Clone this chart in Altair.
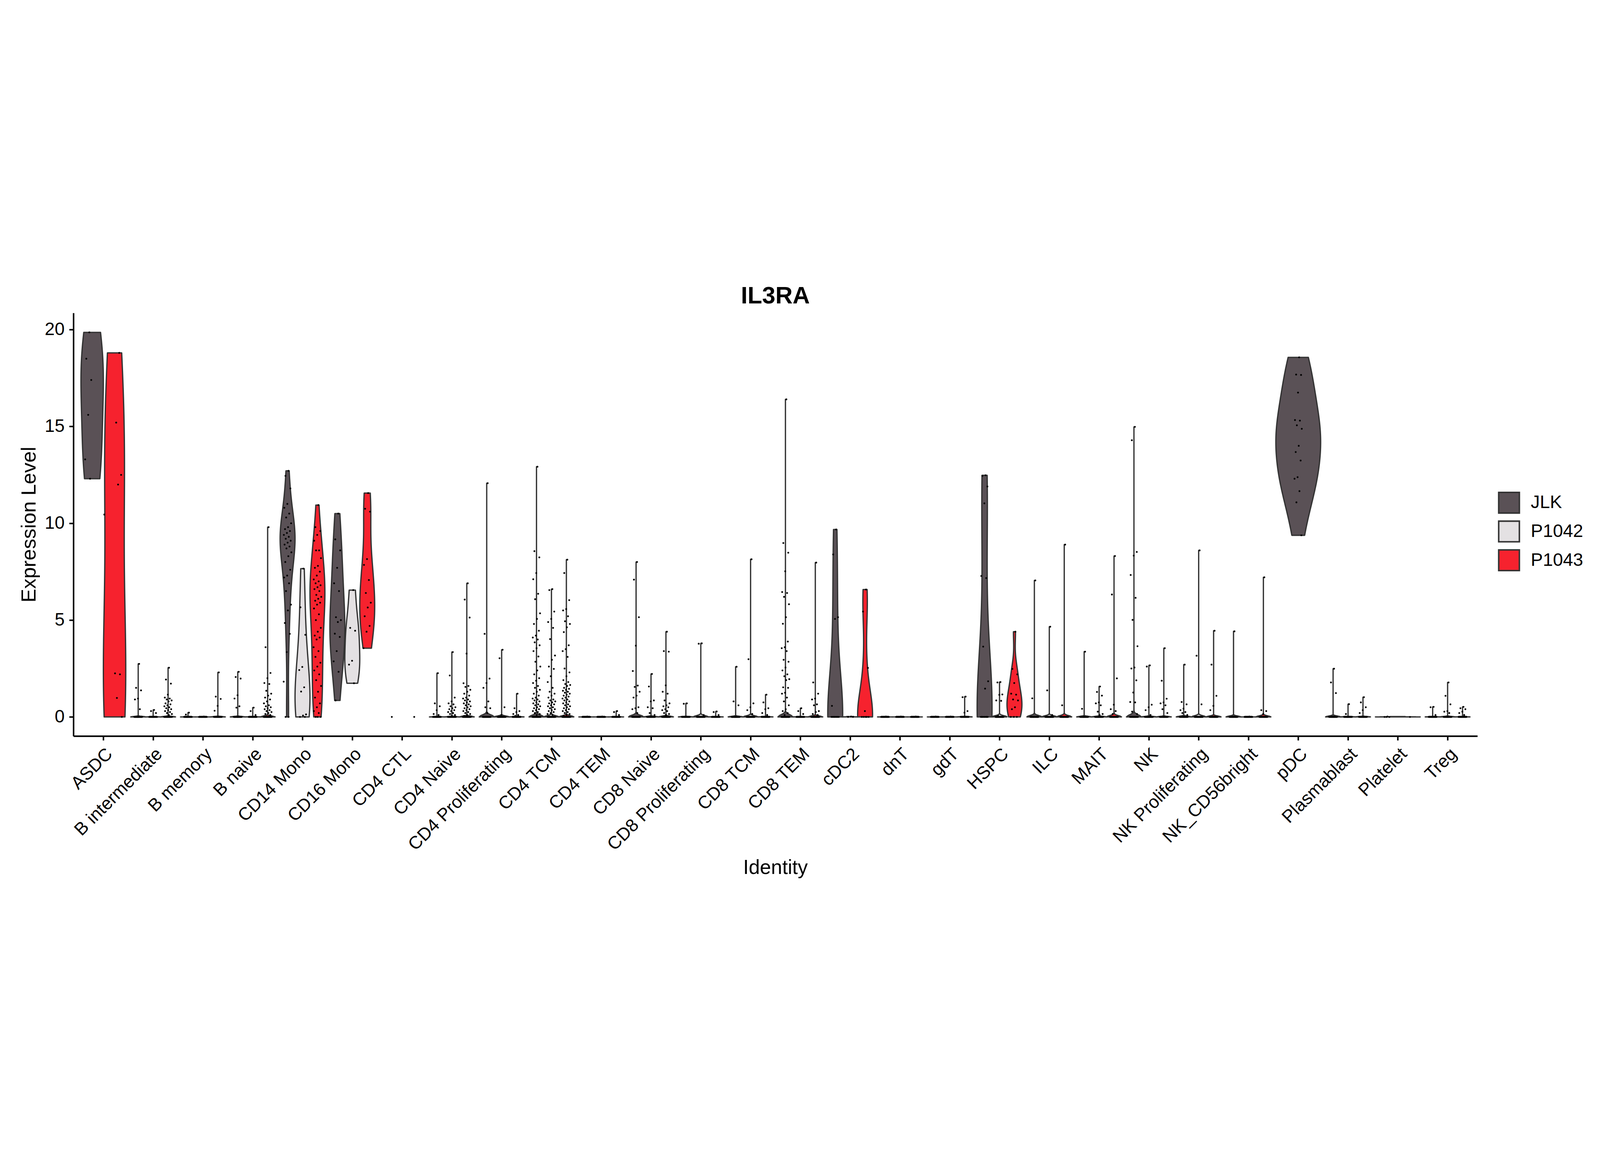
import json

import altair as alt
import pandas as pd

alt.data_transformers.disable_max_rows()

TITLE = "IL3RA"
CATEGORIES = ["ASDC", "B intermediate", "B memory", "B naive", "CD14 Mono", "CD16 Mono",
              "CD4 CTL", "CD4 Naive", "CD4 Proliferating", "CD4 TCM", "CD4 TEM", "CD8 Naive",
              "CD8 Proliferating", "CD8 TCM", "CD8 TEM", "cDC2", "dnT", "gdT", "HSPC", "ILC",
              "MAIT", "NK", "NK Proliferating", "NK_CD56bright", "pDC", "Plasmablast",
              "Platelet", "Treg"]
SAMPLES = ["JLK", "P1042", "P1043"]
COLOURS = ["#5A5156", "#E4E1E3", "#F6222E"]
Y_TICKS = [0, 5, 10, 15, 20]

# non-zero expression values (0.02 = a group that sits flat on 0)
JLK_VALUES = {
    "ASDC": [19.86, 18.5, 17.4, 15.6, 13.3, 12.3],
    "B intermediate": [2.74, 1.5, 1.37, 0.95, 0.9, 0.4],
    "B memory": [0.22, 0.12],
    "B naive": [2.33, 2.06, 1.98, 1.12, 0.95, 0.55, 0.48],
    "CD14 Mono": [12.71, 12.45, 11.8, 11.0, 10.8, 10.5, 10.3, 10.0, 9.8, 9.7, 9.6, 9.5, 9.4,
                  9.3, 9.2, 9.1, 9.0, 8.9, 8.8, 8.7, 8.5, 8.3, 8.0, 7.6, 7.3, 7.2, 6.9, 6.5,
                  5.8, 5.5, 4.85, 4.29, 3.35, 1.82],
    "CD16 Mono": [10.5, 9.17, 8.6, 7.7, 6.9, 6.5, 5.15, 5.0, 4.9, 4.3, 4.13, 3.4, 2.87, 2.33, 0.85],
    "CD4 Naive": [2.26, 0.7, 0.55, 0.35, 0.15, 0.1],
    "CD4 Proliferating": [12.07, 4.29, 1.98, 1.75, 1.5, 0.8, 0.5, 0.45, 0.2],
    "CD4 TCM": [12.92, 8.56, 8.24, 7.43, 7.11, 6.36, 6.08, 5.35, 5.06, 4.8, 4.45, 4.2, 4.1, 4.0,
                3.85, 3.7, 3.55, 3.4, 3.12, 2.85, 2.6, 2.4, 2.2, 2.0, 1.87, 1.75, 1.6, 1.5, 1.4,
                1.3, 1.2, 1.1, 1.0, 0.95, 0.9, 0.85, 0.8, 0.75, 0.7, 0.65, 0.6, 0.55, 0.5, 0.45,
                0.4, 0.35, 0.3, 0.25, 0.2, 0.15, 0.1],
    "CD4 TEM": [0.02],
    "CD8 Naive": [8.0, 7.09, 5.15, 3.68, 2.37, 1.62, 1.55, 1.3, 1.1, 1.0, 0.5, 0.45, 0.4, 0.2],
    "CD8 Proliferating": [0.7, 0.68],
    "CD8 TCM": [2.59, 0.8, 0.6],
    "CD8 TEM": [16.4, 8.98, 8.48, 7.52, 6.45, 6.4, 6.2, 5.82, 5.15, 4.81, 3.89, 3.6, 3.55, 3.4,
                2.95, 2.85, 2.55, 2.4, 2.2, 2.1, 1.95, 1.9, 1.53, 1.5, 1.25, 1.2, 1.0, 0.8, 0.6,
                0.4, 0.3, 0.2, 0.1],
    "cDC2": [9.68, 8.39, 5.15, 5.06, 0.57],
    "dnT": [0.02],
    "gdT": [0.02],
    "HSPC": [12.48, 12.45, 11.9, 11.03, 7.28, 7.17, 3.63, 1.84, 1.46],
    "ILC": [7.05, 0.96],
    "MAIT": [3.37, 0.42],
    "NK": [14.98, 14.29, 8.52, 8.33, 7.33, 6.15, 5.01, 3.65, 2.55, 2.5, 1.89, 1.26, 0.77, 0.75,
           0.27, 0.15],
    "NK Proliferating": [2.7, 0.77, 0.65, 0.43, 0.35, 0.25, 0.2, 0.1],
    "NK_CD56bright": [4.42],
    "pDC": [18.57, 17.68, 17.66, 16.75, 15.33, 15.3, 15.06, 14.88, 14.0, 13.68, 13.24, 12.38,
            12.3, 11.66, 11.08, 9.38],
    "Plasmablast": [2.49, 1.78, 1.23],
    "Platelet": [0.02],
    "Treg": [0.52, 0.5, 0.1],
}
P1042_VALUES = {
    "ASDC": [10.45],
    "B intermediate": [0.36, 0.3, 0.2],
    "B memory": [0.02],
    "B naive": [0.48, 0.3, 0.1],
    "CD14 Mono": [7.66, 5.66, 4.24, 2.58, 2.42, 1.53, 1.31, 0.13, 0.07],
    "CD16 Mono": [6.55, 4.6, 4.45, 2.9, 2.7, 1.74],
    "CD4 Naive": [3.35, 2.14, 1.0, 0.8, 0.7, 0.65, 0.55, 0.5, 0.45, 0.4, 0.35, 0.3, 0.25, 0.2,
                  0.15, 0.1, 0.05],
    "CD4 Proliferating": [3.47, 3.03, 0.5, 0.1],
    "CD4 TCM": [6.6, 6.55, 5.44, 5.06, 4.9, 4.6, 4.02, 3.17, 2.95, 2.6, 2.48, 2.1, 1.8, 1.5, 1.3,
                1.2, 1.1, 1.0, 0.9, 0.85, 0.8, 0.75, 0.7, 0.65, 0.6, 0.55, 0.5, 0.45, 0.4, 0.35,
                0.3, 0.25, 0.2, 0.15, 0.1],
    "CD4 TEM": [0.02],
    "CD8 Naive": [2.22, 1.57, 0.85, 0.8, 0.5, 0.45, 0.2, 0.1],
    "CD8 Proliferating": [3.8, 3.78, 0.1],
    "CD8 TCM": [8.14, 2.98, 0.7, 0.5, 0.35, 0.15],
    "CD8 TEM": [0.45, 0.3, 0.15],
    "cDC2": [0.02],
    "dnT": [0.02],
    "gdT": [0.02],
    "HSPC": [1.8, 1.78, 1.16, 1.14, 0.85, 0.83, 0.05],
    "ILC": [4.66, 1.37, 0.1],
    "MAIT": [1.57, 1.29, 1.1, 0.75, 0.7, 0.6, 0.27, 0.15, 0.1],
    "NK": [2.66, 2.6, 0.63, 0.5, 0.35, 0.1],
    "NK Proliferating": [8.6, 3.16, 0.65],
    "NK_CD56bright": [0.02],
    "Plasmablast": [0.66, 0.15],
    "Treg": [1.78, 1.09, 0.65, 0.3, 0.27, 0.2],
}
P1043_VALUES = {
    "ASDC": [18.8, 15.2, 12.5, 12.0, 2.25, 2.2, 0.98],
    "B intermediate": [2.54, 1.93, 1.72, 1.15, 1.0, 0.95, 0.9, 0.85, 0.8, 0.7, 0.65, 0.6, 0.55,
                       0.5, 0.45, 0.4, 0.35, 0.3, 0.25, 0.2, 0.15, 0.1],
    "B memory": [2.3, 1.05, 0.93, 0.57, 0.32],
    "B naive": [9.8, 3.6, 2.27, 2.0, 1.75, 1.7, 1.35, 1.2, 1.1, 1.0, 0.9, 0.8, 0.7, 0.6, 0.55,
                0.5, 0.45, 0.4, 0.35, 0.3, 0.25, 0.2, 0.15, 0.1],
    "CD14 Mono": [10.94, 9.8, 9.6, 9.4, 9.1, 8.6, 8.6, 8.2, 7.8, 7.7, 7.5, 7.3, 7.1, 7.0, 6.9,
                  6.8, 6.7, 6.6, 6.5, 6.3, 6.2, 6.1, 6.0, 5.9, 5.8, 5.6, 5.3, 5.0, 4.6, 4.4, 4.2,
                  4.1, 4.0, 3.6, 3.4, 3.1, 2.8, 2.6, 2.4, 2.2, 1.9, 1.6, 1.3, 1.0, 0.7, 0.5, 0.3,
                  0.2],
    "CD16 Mono": [11.56, 10.75, 10.6, 8.15, 7.85, 7.07, 6.4, 5.9, 5.65, 5.2, 4.7, 4.4, 3.55],
    "CD4 Naive": [6.9, 6.06, 5.13, 3.27, 1.74, 1.6, 1.55, 1.4, 1.3, 1.2, 1.1, 1.0, 0.95, 0.9,
                  0.85, 0.8, 0.75, 0.7, 0.65, 0.6, 0.55, 0.5, 0.45, 0.4, 0.35, 0.3, 0.25, 0.2,
                  0.15, 0.1, 0.05],
    "CD4 Proliferating": [1.2, 0.45, 0.3, 0.25, 0.15, 0.1, 0.05],
    "CD4 TCM": [8.12, 7.43, 6.03, 5.57, 5.5, 5.2, 4.94, 4.8, 4.63, 4.38, 3.7, 3.5, 3.4, 3.1, 2.5,
                2.3, 2.1, 1.9, 1.8, 1.7, 1.65, 1.6, 1.5, 1.45, 1.4, 1.35, 1.3, 1.25, 1.2, 1.15,
                1.1, 1.05, 1.0, 0.95, 0.9, 0.85, 0.8, 0.75, 0.7, 0.65, 0.6, 0.55, 0.5, 0.45, 0.4,
                0.35, 0.3, 0.25, 0.2, 0.15, 0.1, 0.05],
    "CD4 TEM": [0.3, 0.25, 0.1],
    "CD8 Naive": [4.4, 3.4, 3.37, 1.63, 1.3, 1.2, 0.85, 0.7, 0.6, 0.55, 0.5, 0.4, 0.35, 0.3, 0.2,
                  0.15, 0.1],
    "CD8 Proliferating": [0.28, 0.25, 0.1],
    "CD8 TCM": [1.15, 0.75, 0.45, 0.4, 0.2, 0.1],
    "CD8 TEM": [7.97, 1.78, 1.2, 0.95, 0.9, 0.65, 0.6, 0.3, 0.25, 0.15, 0.1],
    "cDC2": [6.58, 5.44, 2.53, 0.3],
    "dnT": [0.02],
    "gdT": [1.05, 1.02, 0.3, 0.22],
    "HSPC": [4.4, 2.48, 2.2, 1.75, 1.2, 1.15, 0.9, 0.85, 0.5, 0.4],
    "ILC": [8.9, 0.6],
    "MAIT": [8.31, 6.32, 1.99, 0.63, 0.4, 0.3, 0.15],
    "NK": [3.55, 1.87, 0.94, 0.75, 0.7, 0.6, 0.4, 0.2],
    "NK Proliferating": [4.45, 2.7, 1.09, 0.57, 0.35],
    "NK_CD56bright": [7.21, 0.35, 0.3, 0.15],
    "Plasmablast": [1.02, 0.75, 0.5, 0.35, 0.2],
    "Treg": [0.52, 0.45, 0.4, 0.27, 0.2, 0.1],
}

# estimated number of cells sitting at exactly 0
JLK_ZEROS = {"B intermediate": 1500, "B memory": 1500, "B naive": 2000, "CD14 Mono": 2,
             "CD4 CTL": 1, "CD4 Naive": 3000, "CD4 Proliferating": 1200, "CD4 TCM": 4000,
             "CD4 TEM": 1000, "CD8 Naive": 1500, "CD8 Proliferating": 400, "CD8 TCM": 800,
             "CD8 TEM": 3000, "cDC2": 8, "dnT": 400, "gdT": 600, "HSPC": 10, "ILC": 800,
             "MAIT": 1000, "NK": 3000, "NK Proliferating": 600, "NK_CD56bright": 800,
             "Plasmablast": 500, "Platelet": 3, "Treg": 800}
P1042_ZEROS = {"B intermediate": 800, "B memory": 800, "B naive": 800, "CD14 Mono": 2,
               "CD4 Naive": 3000, "CD4 Proliferating": 800, "CD4 TCM": 3000, "CD4 TEM": 600,
               "CD8 Naive": 1000, "CD8 Proliferating": 600, "CD8 TCM": 1500, "CD8 TEM": 600,
               "cDC2": 2, "dnT": 300, "gdT": 400, "HSPC": 300, "ILC": 600, "MAIT": 800,
               "NK": 1500, "NK Proliferating": 1500, "NK_CD56bright": 400, "Plasmablast": 300,
               "Treg": 800}
P1043_ZEROS = {"ASDC": 1, "B intermediate": 2000, "B memory": 1500, "B naive": 3000,
               "CD14 Mono": 3, "CD4 CTL": 1, "CD4 Naive": 4000, "CD4 Proliferating": 800,
               "CD4 TCM": 5000, "CD4 TEM": 1000, "CD8 Naive": 2000, "CD8 Proliferating": 400,
               "CD8 TCM": 1000, "CD8 TEM": 2000, "cDC2": 5, "dnT": 400, "gdT": 800, "HSPC": 3,
               "ILC": 1200, "MAIT": 1500, "NK": 2000, "NK Proliferating": 1000,
               "NK_CD56bright": 1200, "Plasmablast": 500, "Platelet": 1, "Treg": 1000}


def build_cells():
    rows = []
    sources = zip(SAMPLES, [JLK_VALUES, P1042_VALUES, P1043_VALUES],
                  [JLK_ZEROS, P1042_ZEROS, P1043_ZEROS])
    for sample, values, zeros in sources:
        for cat in CATEGORIES:
            for v in list(values.get(cat, [])) + [0.0] * zeros.get(cat, 0):
                rows.append({"identity": cat, "sample": sample, "value": v})
    cells = pd.DataFrame(rows)
    cells["idx"] = cells["identity"].map(lambda c: CATEGORIES.index(c) + 1)

    # dodge slots: points dodge over every group present, violins over groups with >= 2 cells
    groups = cells.groupby(["identity", "sample"]).size().rename("cnt").reset_index()
    groups["sidx"] = groups["sample"].map(SAMPLES.index)
    groups = groups.sort_values(["identity", "sidx"])
    groups["n_pt"] = groups.groupby("identity")["sample"].transform("count")
    groups["pos_pt"] = groups.groupby("identity").cumcount()
    vgroups = groups[groups["cnt"] >= 2].copy()
    vgroups["n_vl"] = vgroups.groupby("identity")["sample"].transform("count")
    vgroups["pos_vl"] = vgroups.groupby("identity").cumcount()

    pts = cells.merge(groups[["identity", "sample", "n_pt", "pos_pt"]], on=["identity", "sample"])
    # only a few of the many zero cells are needed to draw the dotted line at 0
    pts["zrank"] = pts.groupby(["identity", "sample", pts["value"] > 0]).cumcount()
    pts = pts[(pts["value"] > 0) | (pts["zrank"] < 40)]
    vln = cells.merge(vgroups[["identity", "sample", "n_vl", "pos_vl"]], on=["identity", "sample"])
    return pts, vln


points_df, violin_df = build_cells()

FONT = "Liberation Sans"
x_scale = alt.Scale(domain=[0.4, 28.6], nice=False, zero=False)
y_scale = alt.Scale(domain=[-0.99, 20.86], nice=False, zero=False)

x_axis = alt.Axis(
    values=list(range(1, 29)), labelExpr=json.dumps(CATEGORIES) + "[datum.value - 1]",
    title="Identity", grid=False, labelAngle=315, labelAlign="right", labelBaseline="top",
    labelFontSize=84, labelColor="black", labelPadding=22, labelOverlap=False, labelLimit=0,
    labelBound=False, labelFlush=False, tickSize=20, tickWidth=7, tickColor="black",
    domainWidth=7, domainColor="black", titleFontSize=94, titleFontWeight="normal",
    titleColor="black", titleX=3292, titleY=647, titleBaseline="alphabetic", titleAlign="center",
)
y_axis = alt.Axis(
    values=Y_TICKS, title="Expression Level", grid=False, labelFontSize=84, labelColor="black",
    labelPadding=22, tickSize=20, tickWidth=7, tickColor="black", domainWidth=7,
    domainColor="black", titleFontSize=96, titleFontWeight="normal", titleColor="black",
    titleAngle=270, titleX=-179, titleY=992, titleBaseline="alphabetic", titleAlign="center",
)
legend = alt.Legend(
    title=None, orient="none", legendX=6681, legendY=838, symbolType="square", symbolSize=9409,
    symbolStrokeColor="#333333", symbolStrokeWidth=7, symbolOpacity=1, labelFontSize=85,
    labelColor="black", labelOffset=50, labelLimit=0, rowPadding=9, padding=0,
)
colour = alt.Color("sample:N", scale=alt.Scale(domain=SAMPLES, range=COLOURS), legend=legend)


def violin(group):
    # one layer per violin so each density is trimmed to its own range
    return alt.Chart(group).transform_density(
        "value", as_=["value", "density"],
        groupby=["identity", "sample", "idx", "n_vl", "pos_vl"],
    ).transform_joinaggregate(
        peak="max(density)"
    ).transform_calculate(
        mid="datum.idx - 0.45 + (datum.pos_vl + 0.5) * 0.9 / datum.n_vl",
        half="0.45 / datum.n_vl * datum.density / datum.peak",
    ).transform_calculate(
        lo="datum.mid - datum.half", hi="datum.mid + datum.half"
    ).mark_area(
        orient="horizontal", stroke="#333333", strokeWidth=6, strokeJoin="round", opacity=1
    ).encode(
        y=alt.Y("value:Q", scale=y_scale, axis=y_axis),
        x=alt.X("lo:Q", scale=x_scale, axis=x_axis),
        x2="hi:Q",
        color=colour,
    )


violins = [violin(g[["identity", "sample", "idx", "n_vl", "pos_vl", "value"]])
           for _, g in violin_df.groupby(["identity", "sample"], sort=False)]

points = alt.Chart(points_df).transform_window(
    rank="row_number()", groupby=["identity", "sample"]
).transform_calculate(
    px="datum.idx - 0.45 + (datum.pos_pt + 0.5) * 0.9 / datum.n_pt"
       " + ((datum.rank * 0.618034) % 1 - 0.5) * 0.16"
).mark_circle(size=75, color="black", opacity=1).encode(
    x=alt.X("px:Q", scale=x_scale, axis=x_axis),
    y=alt.Y("value:Q", scale=y_scale, axis=y_axis),
)

# plot title, centred over the panel
heading = alt.Chart(pd.DataFrame({"label": [TITLE]})).mark_text(
    font=FONT, fontSize=112, fontWeight="bold", color="black", align="center",
    baseline="alphabetic",
).encode(text="label:N", x=alt.value(3292), y=alt.value(-44))

chart = alt.layer(*violins, points, heading).properties(
    width=6585, height=1985,
    autosize=alt.AutoSizeParams(type="none"),
    padding={"left": 330, "top": 226, "right": 560, "bottom": 740},
).configure(font=FONT).configure_view(stroke=None)

chart.save("out.html", embed_options={"renderer": "svg", "actions": False})
